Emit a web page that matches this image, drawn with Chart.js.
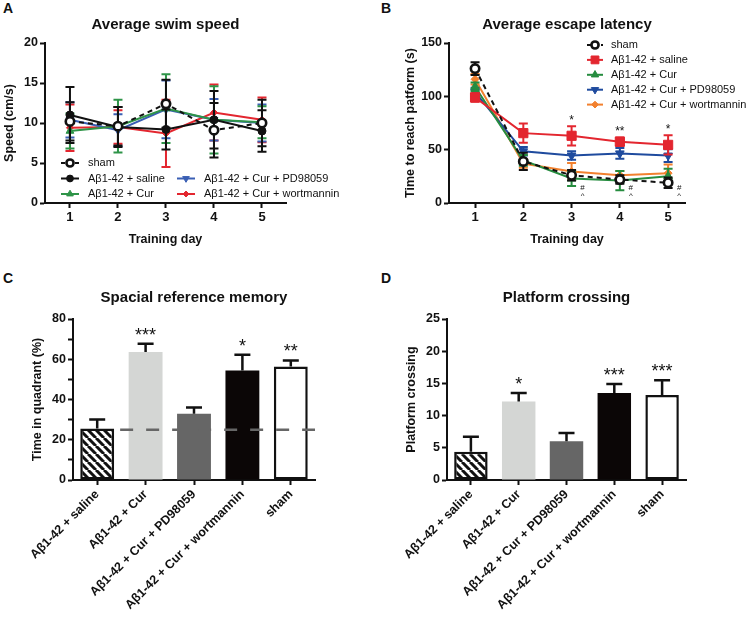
<!DOCTYPE html>
<html>
<head>
<meta charset="utf-8">
<script src="https://cdn.jsdelivr.net/npm/chart.js@4.4.1/dist/chart.umd.min.js"></script>
<style>
  body { margin: 0; background: #fff; }
  #fig { position: relative; width: 749px; height: 621px; font-family: 'Liberation Sans', Arial, sans-serif; }
  #fig canvas { position: absolute; }
  .tag { position: absolute; font-weight: bold; font-size: 14px; color: #111; }
</style>
</head>
<body>
<div id="fig">
  <div class="tag" style="left:3px;top:0px">A</div>
  <div class="tag" style="left:381px;top:0px">B</div>
  <div class="tag" style="left:3px;top:270px">C</div>
  <div class="tag" style="left:381px;top:270px">D</div>
  <canvas id="speed" width="374" height="270" style="left:0;top:0"></canvas>
  <canvas id="latency" width="375" height="270" style="left:374px;top:0"></canvas>
  <canvas id="memory" width="374" height="351" style="left:0;top:270px"></canvas>
  <canvas id="crossing" width="375" height="351" style="left:374px;top:270px"></canvas>
</div>
<script>
const days = [1, 2, 3, 4, 5];
const lineGroups = ['sham', 'Aβ1-42 + saline', 'Aβ1-42 + Cur', 'Aβ1-42 + Cur + PD98059', 'Aβ1-42 + Cur + wortmannin'];

// A - average swim speed (cm/s), mean and error
const speedSham = [10.2, 9.6, 12.4, 9.1, 10.0];
const speedSaline = [11.0, 9.5, 9.2, 10.4, 9.0];
const speedCur = [9.0, 9.6, 11.8, 10.4, 10.1];
const speedPD = [10.4, 9.1, 11.7, 10.4, 10.0];
const speedWort = [9.4, 9.5, 8.7, 11.3, 10.4];
const speedShamErr = [2.4, 2.4, 3.0, 3.4, 2.9];
const speedSalineErr = [3.5, 2.5, 2.5, 3.6, 2.6];
const speedCurErr = [2.2, 3.3, 4.3, 4.2, 2.0];
const speedPDErr = [2.2, 2.0, 3.6, 2.6, 2.3];
const speedWortErr = [2.9, 2.1, 4.2, 3.5, 2.8];

// B - escape latency (s)
const latSham = [126, 39, 26, 22, 19];
const latSaline = [99, 65.5, 63, 57.5, 54.5];
const latCur = [109, 40, 23, 21, 25];
const latPD = [104, 48.5, 44.5, 46.5, 44.5];
const latWort = [116, 37, 29.5, 26, 28];
const latShamErr = [6, 8, 5, 4, 5];
const latSalineErr = [4, 9, 9, 4, 9];
const latCurErr = [4, 5, 7, 9, 7];
const latPDErr = [4, 4, 4, 5, 6];
const latWortErr = [5, 4, 8, 4, 8];
const latStars = ['', '', '*', '**', '*'];
const latHash = ['', '', '#', '#', '#'];
const latCaret = ['', '', '^', '^', '^'];

// C and D - probe trial
const barGroups = ['Aβ1-42 + saline', 'Aβ1-42 + Cur', 'Aβ1-42 + Cur + PD98059', 'Aβ1-42 + Cur + wortmannin', 'sham'];
const quadrantTime = [25.6, 63.6, 32.9, 54.4, 56.4];
const quadrantErr = [4.5, 4.1, 3.1, 7.8, 3.0];
const quadrantStars = ['', '***', '', '*', '**'];
const chanceLevel = 25;
const crossings = [4.4, 12.2, 6.0, 13.5, 13.2];
const crossingsErr = [2.3, 1.3, 1.3, 1.4, 2.3];
const crossingStars = ['', '*', '', '***', '***'];

const family = "'Liberation Sans', Arial, sans-serif";
Chart.defaults.font.family = family;
Chart.defaults.color = '#111';
Chart.defaults.animation = false;
Chart.defaults.plugins.tooltip.enabled = false;
Chart.defaults.plugins.legend.display = false;

const tickFont = {size: 12.5, weight: 'bold'};
const titleFont = {size: 12.5, weight: 'bold'};
const axisBorder = {color: '#111', width: 2};
const axisGrid = {drawOnChartArea: false, tickLength: 5, tickColor: '#111', tickWidth: 2};

const valueOf = d => (typeof d === 'object' ? d.y : d);

// error bars drawn from each dataset's "errors" array
function drawErrors(chart, i, opts) {
  const ds = chart.data.datasets[i];
  if (!ds.errors) return;
  const y = chart.scales.y, ctx = chart.ctx, c = opts.cap / 2;
  ctx.save();
  ctx.strokeStyle = ds.errorColor || ds.borderColor;
  ctx.lineWidth = opts.width;
  ctx.setLineDash([]);
  chart.getDatasetMeta(i).data.forEach((el, j) => {
    const v = valueOf(ds.data[j]), e = ds.errors[j];
    const top = y.getPixelForValue(v + e);
    const bottom = y.getPixelForValue(opts.oneSided ? v : v - e);
    ctx.beginPath();
    ctx.moveTo(el.x, bottom); ctx.lineTo(el.x, top);
    ctx.moveTo(el.x - c, top); ctx.lineTo(el.x + c, top);
    if (!opts.oneSided) { ctx.moveTo(el.x - c, bottom); ctx.lineTo(el.x + c, bottom); }
    ctx.stroke();
  });
  ctx.restore();
}
const errorBars = {
  id: 'errorBars',
  beforeDatasetDraw(chart, args, opts) { if (!opts.above) drawErrors(chart, args.index, opts); },
  afterDatasetDraw(chart, args, opts) { if (opts.above) drawErrors(chart, args.index, opts); }
};

// legend inside the plot, line + marker + label
const insetLegend = {
  id: 'insetLegend',
  afterDraw(chart, args, opts) {
    if (!opts.slots) return;
    const ctx = chart.ctx;
    chart.data.datasets.forEach((ds, i) => {
      const x = opts.cols[opts.slots[i][0]], y = opts.top + opts.slots[i][1] * opts.rowH;
      ctx.save();
      ctx.strokeStyle = ds.borderColor; ctx.lineWidth = 2;
      ctx.setLineDash(ds.borderDash ? [4, 3] : []);
      ctx.beginPath(); ctx.moveTo(x, y); ctx.lineTo(x + opts.lineW, y); ctx.stroke();
      ctx.setLineDash([]);
      ctx.fillStyle = ds.pointBackgroundColor; ctx.strokeStyle = ds.pointBorderColor; ctx.lineWidth = ds.pointBorderWidth;
      Chart.helpers.drawPoint(ctx, {pointStyle: ds.pointStyle, rotation: ds.pointRotation || 0,
        radius: ds.pointRadius * 0.85, borderWidth: ds.pointBorderWidth}, x + opts.lineW / 2, y);
      ctx.fillStyle = '#111'; ctx.font = '11px ' + family; ctx.textAlign = 'left'; ctx.textBaseline = 'middle';
      ctx.fillText(ds.label, x + opts.lineW + opts.gap, y);
      ctx.restore();
    });
  }
};

// significance marks above the error bars, plus extra notes at fixed values
const sigMarks = {
  id: 'sigMarks',
  afterDatasetsDraw(chart, args, opts) {
    if (!opts.labels) return;
    const ctx = chart.ctx, y = chart.scales.y;
    const ds = chart.data.datasets[opts.datasetIndex];
    const pts = chart.getDatasetMeta(opts.datasetIndex).data;
    ctx.save();
    ctx.fillStyle = '#111'; ctx.textAlign = 'center'; ctx.textBaseline = 'alphabetic';
    ctx.font = opts.size + 'px ' + family;
    opts.labels.forEach((t, j) => {
      if (t) ctx.fillText(t, pts[j].x, y.getPixelForValue(valueOf(ds.data[j]) + ds.errors[j]) - opts.gap);
    });
    if (opts.notes) {
      ctx.font = opts.noteSize + 'px ' + family; ctx.textBaseline = 'middle';
      opts.notes.forEach((row, r) => row.forEach((t, j) => {
        if (t) ctx.fillText(t, pts[j].x + opts.noteDx, y.getPixelForValue(opts.noteValues[r]));
      }));
    }
    ctx.restore();
  }
};

// dashed chance-level line
const refLine = {
  id: 'refLine',
  afterDatasetsDraw(chart, args, opts) {
    const {ctx, chartArea} = chart;
    const first = chart.getDatasetMeta(0).data[0];
    const y = chart.scales.y.getPixelForValue(opts.value);
    ctx.save();
    ctx.strokeStyle = '#666'; ctx.lineWidth = 2.5; ctx.setLineDash([13, 13]);
    ctx.beginPath(); ctx.moveTo(first.x + first.width / 2 + 6, y); ctx.lineTo(chartArea.right, y); ctx.stroke();
    ctx.restore();
  }
};

function chartTitle(text, padTop, padBottom) {
  return {display: true, text, fullSize: false, color: '#111',
    font: {size: 15, weight: 'bold'}, padding: {top: padTop, bottom: padBottom}};
}
function dayAxis(min, max) {
  return {
    type: 'linear', min, max,
    afterBuildTicks: s => { s.ticks = days.map(v => ({value: v})); },
    afterFit: s => { s.height = 67; },
    border: axisBorder, grid: axisGrid,
    ticks: {font: {size: 13, weight: 'bold'}, padding: 2},
    title: {display: true, text: 'Training day', font: titleFont, padding: {top: 4, bottom: 23}}
  };
}
function valueAxis(min, max, step, text, width, titlePad, labelEvery) {
  const ticks = {stepSize: step, font: tickFont, padding: 2};
  if (labelEvery) ticks.callback = v => (v % labelEvery === 0 ? v : '');
  return {
    min, max, ticks,
    afterFit: s => { s.width = width; },
    border: axisBorder, grid: axisGrid,
    title: {display: true, text, font: titleFont, padding: {top: titlePad, bottom: 0}}
  };
}
function groupAxis() {
  return {
    afterFit: s => { s.height = 141; },
    border: axisBorder,
    grid: Object.assign({}, axisGrid, {offset: false}),
    ticks: {font: {size: 12.5, weight: 'bold'}, minRotation: 45, maxRotation: 45, autoSkip: false, padding: 2}
  };
}

function lineSet(label, values, errors, color, style) {
  return Object.assign({
    label, errors,
    data: days.map((d, i) => ({x: d, y: values[i]})),
    borderColor: color, backgroundColor: color,
    pointBackgroundColor: color, pointBorderColor: color,
    borderWidth: 2, pointRadius: 4, pointBorderWidth: 1, tension: 0
  }, style);
}
const shamStyle = {borderDash: [5, 4], pointStyle: 'circle', pointRadius: 4.2, pointBackgroundColor: '#fff', pointBorderWidth: 2.6};

const hatch = (() => {
  const c = document.createElement('canvas');
  c.width = 8; c.height = 8;
  const g = c.getContext('2d');
  g.fillStyle = '#fff'; g.fillRect(0, 0, 8, 8);
  g.strokeStyle = '#111'; g.lineWidth = 3;
  g.beginPath();
  [-8, 0, 8].forEach(o => { g.moveTo(o, 0); g.lineTo(o + 8, 8); });
  g.stroke();
  return document.getElementById('memory').getContext('2d').createPattern(c, 'repeat');
})();

function barSet(values, errors) {
  return {
    data: values, errors, errorColor: '#111',
    backgroundColor: [hatch, '#d4d6d4', '#666666', '#0b0606', '#ffffff'],
    borderColor: '#111', borderWidth: [2.5, 0, 0, 0, 2.5], borderSkipped: false,
    barPercentage: 0.7, categoryPercentage: 1
  };
}

new Chart(document.getElementById('speed'), {
  type: 'line',
  data: {datasets: [
    lineSet(lineGroups[0], speedSham, speedShamErr, '#111', shamStyle),
    lineSet(lineGroups[1], speedSaline, speedSalineErr, '#111', {pointStyle: 'circle', pointRadius: 4}),
    lineSet(lineGroups[2], speedCur, speedCurErr, '#2e9448', {pointStyle: 'triangle', pointRadius: 4.5}),
    lineSet(lineGroups[3], speedPD, speedPDErr, '#3a5fb4', {pointStyle: 'triangle', pointRotation: 180, pointRadius: 4.5}),
    lineSet(lineGroups[4], speedWort, speedWortErr, '#e3262f', {pointStyle: 'rectRot', pointRadius: 3.5})
  ]},
  options: {
    responsive: false,
    layout: {padding: {left: 0, right: 88, top: 0, bottom: 0}},
    scales: {x: dayAxis(0.48, 5.5), y: valueAxis(0, 20, 5, 'Speed (cm/s)', 45, 2)},
    plugins: {
      title: chartTitle('Average swim speed', 16, 9),
      errorBars: {width: 2, cap: 9},
      insetLegend: {cols: [61, 177], top: 163, rowH: 15.5, lineW: 18, gap: 9, slots: [[0, 0], [0, 1], [0, 2], [1, 1], [1, 2]]}
    }
  },
  plugins: [errorBars, insetLegend]
});

new Chart(document.getElementById('latency'), {
  type: 'line',
  data: {datasets: [
    lineSet(lineGroups[0], latSham, latShamErr, '#111', shamStyle),
    lineSet(lineGroups[1], latSaline, latSalineErr, '#e3262f', {pointStyle: 'rect', pointRadius: 6.5}),
    lineSet(lineGroups[2], latCur, latCurErr, '#268c3f', {pointStyle: 'triangle', pointRadius: 5}),
    lineSet(lineGroups[3], latPD, latPDErr, '#1f4b9e', {pointStyle: 'triangle', pointRotation: 180, pointRadius: 5}),
    lineSet(lineGroups[4], latWort, latWortErr, '#f2812f', {pointStyle: 'rectRot', pointRadius: 4})
  ]},
  options: {
    responsive: false,
    layout: {padding: {left: 0, right: 64, top: 0, bottom: 0}},
    scales: {x: dayAxis(0.46, 5.35), y: valueAxis(0, 150, 50, 'Time to reach patform (s)', 75, 29)},
    plugins: {
      title: chartTitle('Average escape latency', 16, 9),
      errorBars: {width: 2, cap: 9},
      insetLegend: {cols: [213], top: 45, rowH: 14.9, lineW: 16, gap: 8, slots: [[0, 0], [0, 1], [0, 2], [0, 3], [0, 4]]},
      sigMarks: {datasetIndex: 1, labels: latStars, size: 12, gap: 2,
        notes: [latHash, latCaret], noteValues: [14, 7], noteDx: 11, noteSize: 8}
    }
  },
  plugins: [errorBars, insetLegend, sigMarks]
});

new Chart(document.getElementById('memory'), {
  type: 'bar',
  data: {labels: barGroups, datasets: [barSet(quadrantTime, quadrantErr)]},
  options: {
    responsive: false,
    layout: {padding: {left: 0, right: 59, top: 0, bottom: 0}},
    scales: {x: groupAxis(), y: valueAxis(0, 80, 10, 'Time in quadrant (%)', 73, 30, 20)},
    plugins: {
      title: chartTitle('Spacial reference memory', 19, 12),
      errorBars: {width: 2.5, cap: 16, oneSided: true, above: true},
      sigMarks: {datasetIndex: 0, labels: quadrantStars, size: 18, gap: 3},
      refLine: {value: chanceLevel}
    }
  },
  plugins: [errorBars, refLine, sigMarks]
});

new Chart(document.getElementById('crossing'), {
  type: 'bar',
  data: {labels: barGroups, datasets: [barSet(crossings, crossingsErr)]},
  options: {
    responsive: false,
    layout: {padding: {left: 0, right: 63, top: 0, bottom: 0}},
    scales: {x: groupAxis(), y: valueAxis(0, 25, 5, 'Platform crossing', 73, 30)},
    plugins: {
      title: chartTitle('Platform crossing', 19, 12),
      errorBars: {width: 2.5, cap: 16, oneSided: true, above: true},
      sigMarks: {datasetIndex: 0, labels: crossingStars, size: 18, gap: 3}
    }
  },
  plugins: [errorBars, sigMarks]
});
</script>
</body>
</html>
